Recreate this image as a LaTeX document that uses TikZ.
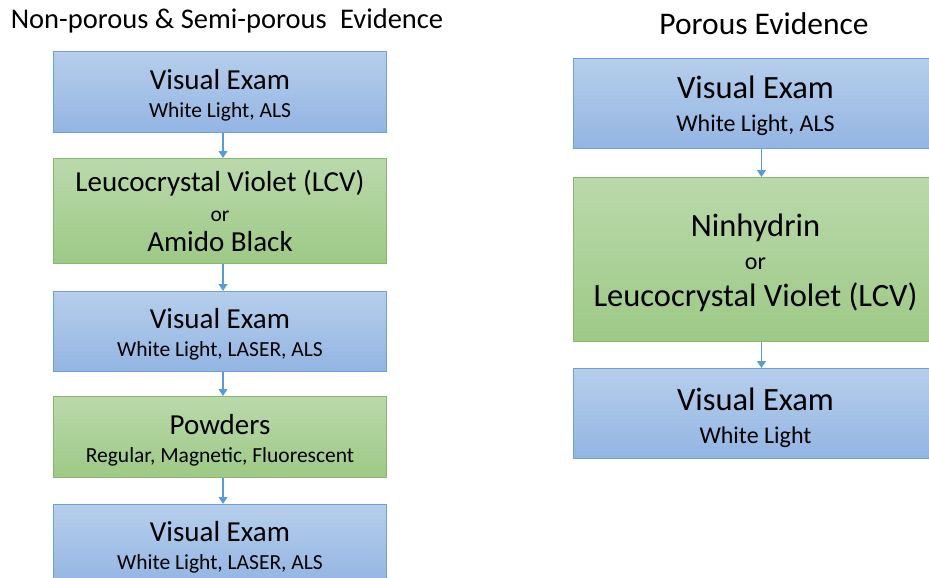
\documentclass[tikz,border=0pt]{standalone}
\usepackage{fontspec}
\setmainfont{Carlito}
\usetikzlibrary{arrows.meta}
\definecolor{bluetop}{HTML}{B6CEEB}
\definecolor{bluebot}{HTML}{93B5E3}
\definecolor{blueline}{HTML}{6F9FD8}
\definecolor{greentop}{HTML}{BAD9AB}
\definecolor{greenbot}{HTML}{9DC986}
\definecolor{greenline}{HTML}{86B96E}
\definecolor{arrowc}{HTML}{5B9BD5}
\newcommand{\Lm}{\fontsize{29}{28}\selectfont}
\newcommand{\Ls}{\fontsize{21.5}{24}\selectfont}
\newcommand{\Rm}{\fontsize{32.5}{33}\selectfont}
\newcommand{\Rs}{\fontsize{24}{27}\selectfont}
\newcommand{\ltxt}[2][-4pt]{\raisebox{#1}[\height][\depth]{\parbox{330pt}{\centering #2}}}
\newcommand{\rtxt}[2][-3pt]{\hspace*{-12pt}\raisebox{#1}[\height][\depth]{\parbox{340pt}{\centering #2}}}
\tikzset{
  bluebox/.style={draw=blueline, line width=1pt, top color=bluetop, bottom color=bluebot, anchor=north west, inner sep=0pt},
  greenbox/.style={draw=greenline, line width=1pt, top color=greentop, bottom color=greenbot, anchor=north west, inner sep=0pt},
  lbox/.style={minimum width=333pt, font=\Lm},
  rbox/.style={minimum width=376pt, font=\Rm},
  flow/.style={draw=arrowc, line width=1.2pt, -{Triangle[length=7pt,width=9pt]}},
}
\begin{document}
\begin{tikzpicture}[x=1pt,y=-1pt]
\useasboundingbox (0,0) rectangle (929,578);
\begin{scope}
\clip (0,0) rectangle (929,578);
% titles
\node[font=\fontsize{28.5}{30}\selectfont] (t1) at (227,21) {Non-porous \& Semi-porous\hspace{7pt} Evidence};
\node[font=\fontsize{31.5}{34}\selectfont] (t2) at (764,24) {Porous Evidence};
% left column
\node[bluebox, lbox, minimum height=81pt] (l1) at (53,51)
  {\ltxt[-3pt]{Visual Exam\\{\Ls White Light, ALS}}};
\node[greenbox, lbox, minimum height=105pt] (l2) at (53,158)
  {\ltxt[0pt]{Leucocrystal Violet (LCV)\\[2pt]{\Ls or}\\[2pt]Amido Black}};
\node[bluebox, lbox, minimum height=80pt] (l3) at (53,291)
  {\ltxt[-2.5pt]{Visual Exam\\{\Ls White Light, LASER, ALS}}};
\node[greenbox, lbox, minimum height=81pt] (l4) at (53,396)
  {\ltxt[-3pt]{Powders\\{\Ls Regular, Magnetic, Fluorescent}}};
\node[bluebox, lbox, minimum height=81pt] (l5) at (53,504)
  {\ltxt[-2pt]{Visual Exam\\{\Ls White Light, LASER, ALS}}};
% right column
\node[bluebox, rbox, minimum height=90pt] (r1) at (573,58)
  {\rtxt[-2.5pt]{Visual Exam\\{\Rs White Light, ALS}}};
\node[greenbox, rbox, minimum height=164pt] (r2) at (573,177)
  {\rtxt[-3pt]{Ninhydrin\\[0pt]{\Rs or}\\[4pt]Leucocrystal Violet (LCV)}};
\node[bluebox, rbox, minimum height=90pt] (r3) at (573,368)
  {\rtxt[-4pt]{Visual Exam\\{\Rs White Light}}};
% connectors
\draw[flow] ([xshift=3pt]l1.south) -- ([xshift=3pt]l2.north);
\draw[flow] ([xshift=3pt]l2.south) -- ([xshift=3pt]l3.north);
\draw[flow] ([xshift=3pt]l3.south) -- ([xshift=3pt]l4.north);
\draw[flow] ([xshift=3pt]l4.south) -- ([xshift=3pt]l5.north);
\draw[flow] (r1.south) -- (r2.north);
\draw[flow] (r2.south) -- (r3.north);
\end{scope}
\end{tikzpicture}
\end{document}
